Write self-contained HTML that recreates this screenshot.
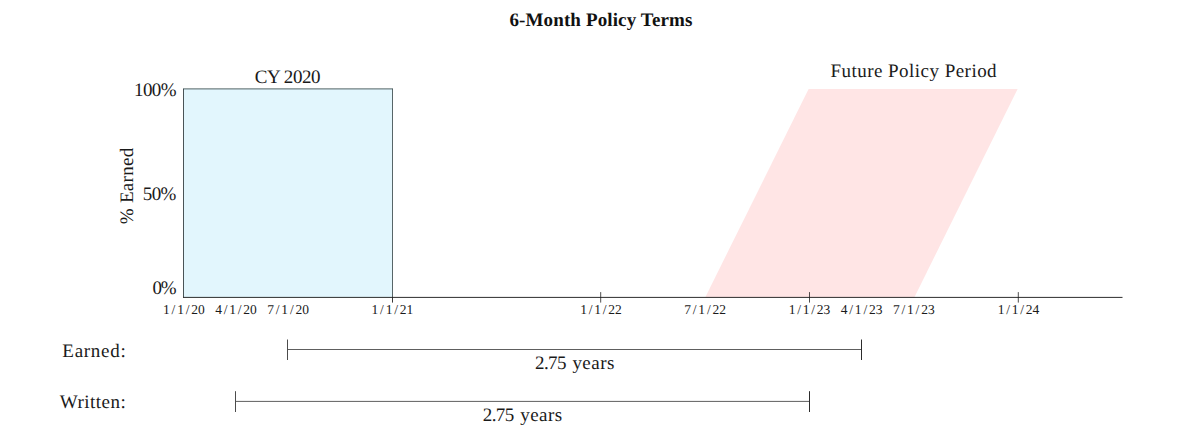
<!DOCTYPE html>
<html>
<head>
<meta charset="utf-8">
<title>6-Month Policy Terms</title>
<style>
  html, body { margin: 0; padding: 0; background: #ffffff; }
  body { width: 1200px; height: 442px; overflow: hidden; }
  svg { display: block; }
  text { font-family: "Liberation Serif", serif; fill: #1a1a1a; text-rendering: geometricPrecision; }
  .t  { font-size: 19px; }
  .b  { font-size: 19px; font-weight: bold; fill: #111111; }
  .ax { font-size: 13.5px; fill: #1a1a1a; }
</style>
</head>
<body>
<svg width="1200" height="442" viewBox="0 0 1200 442">
  <rect x="0" y="0" width="1200" height="442" fill="#ffffff"/>

  <!-- future policy period parallelogram -->
  <polygon points="705.2,297.4 808.6,89 1017.6,89 914.3,297.4" fill="#ffe5e5"/>

  <!-- CY 2020 square -->
  <rect x="183.5" y="88.9" width="209" height="208.6" fill="#e2f6fd"/>
  <g stroke="#364144" stroke-width="1" fill="none">
    <line x1="183" y1="88.9" x2="393" y2="88.9" stroke="#506164"/>
    <line x1="183.5" y1="88.9" x2="183.5" y2="297.5" stroke-width="0.9"/>
    <line x1="392.5" y1="88.9" x2="392.5" y2="297" stroke="#465457" stroke-width="0.9"/>
    <line x1="392.5" y1="297" x2="392.5" y2="302.6" stroke="#222222" stroke-width="0.9"/>
  </g>

  <!-- x axis -->
  <line x1="183" y1="297.4" x2="1122.5" y2="297.4" stroke="#222222" stroke-width="0.95"/>
  <g stroke="#222222" stroke-width="0.8">
    <line x1="600.7" y1="292.1" x2="600.7" y2="302.6"/>
    <line x1="809.5" y1="292.1" x2="809.5" y2="302.6"/>
    <line x1="1018.3" y1="292.1" x2="1018.3" y2="302.6"/>
  </g>

  <!-- title -->
  <text class="b" x="509.4" y="25.6" textLength="183" lengthAdjust="spacing">6-Month Policy Terms</text>

  <!-- region captions -->
  <text class="t" x="254.7" y="82.5" textLength="65.8" lengthAdjust="spacing">CY 2020</text>
  <text class="t" x="830.4" y="77.1" textLength="166.2" lengthAdjust="spacing">Future Policy Period</text>

  <!-- y axis labels -->
  <text class="t" x="134" y="96" textLength="42.6" lengthAdjust="spacing">100%</text>
  <text class="t" x="142.8" y="199.8" textLength="33.6" lengthAdjust="spacing">50%</text>
  <text class="t" x="152.6" y="293.6" textLength="24" lengthAdjust="spacing">0%</text>
  <text class="t" transform="translate(133.2 224.2) rotate(-90)" x="0" y="0" textLength="76.4" lengthAdjust="spacing">% Earned</text>

  <!-- x axis labels -->
  <g class="ax" text-anchor="middle">
    <text x="183.9" y="313.9" dx="0 1.8 1.8 1.8 1.8 0">1/1/20</text>
    <text x="236.0" y="313.9" dx="0 1.8 1.8 1.8 1.8 0">4/1/20</text>
    <text x="288.1" y="313.9" dx="0 1.8 1.8 1.8 1.8 0">7/1/20</text>
    <text x="392.4" y="313.9" dx="0 1.8 1.8 1.8 1.8 0">1/1/21</text>
    <text x="601.0" y="313.9" dx="0 1.8 1.8 1.8 1.8 0">1/1/22</text>
    <text x="705.1" y="313.9" dx="0 1.8 1.8 1.8 1.8 0">7/1/22</text>
    <text x="809.5" y="313.9" dx="0 1.8 1.8 1.8 1.8 0">1/1/23</text>
    <text x="861.6" y="313.9" dx="0 1.8 1.8 1.8 1.8 0">4/1/23</text>
    <text x="913.8" y="313.9" dx="0 1.8 1.8 1.8 1.8 0">7/1/23</text>
    <text x="1018.5" y="313.9" dx="0 1.8 1.8 1.8 1.8 0">1/1/24</text>
  </g>

  <!-- earned / written rows -->
  <text class="t" x="62.3" y="357" textLength="63.4" lengthAdjust="spacing">Earned:</text>
  <text class="t" x="59.8" y="408" textLength="66" lengthAdjust="spacing">Written:</text>

  <g fill="none" stroke-width="1">
    <line x1="287.5" y1="349.5" x2="861.5" y2="349.5" stroke="#5e5e5e"/>
    <line x1="287.5" y1="339.5" x2="287.5" y2="360" stroke="#4c4c4c"/>
    <line x1="861.5" y1="339.5" x2="861.5" y2="360" stroke="#2c2c2c"/>
    <line x1="235.5" y1="401.4" x2="809.5" y2="401.4" stroke="#5e5e5e"/>
    <line x1="235.5" y1="391.2" x2="235.5" y2="412" stroke="#4c4c4c"/>
    <line x1="809.5" y1="391.2" x2="809.5" y2="412" stroke="#2c2c2c"/>
  </g>

  <text class="t" x="535.1" y="368.5"><tspan textLength="31.4" lengthAdjust="spacing">2.75</tspan><tspan x="572.4" textLength="42" lengthAdjust="spacing">years</tspan></text>
  <text class="t" x="482.8" y="420.8"><tspan textLength="31.4" lengthAdjust="spacing">2.75</tspan><tspan x="520.2" textLength="42" lengthAdjust="spacing">years</tspan></text>
</svg>
</body>
</html>
